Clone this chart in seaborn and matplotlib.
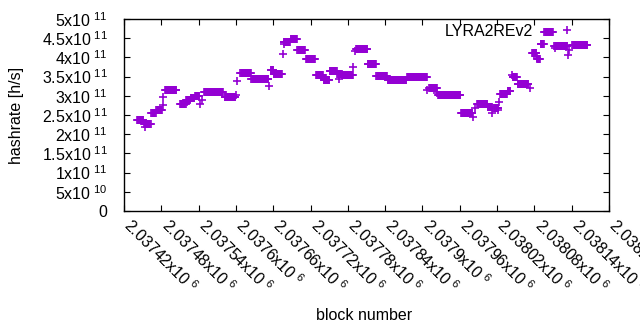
import numpy as np
import pandas as pd
import matplotlib
matplotlib.use('Agg')
import matplotlib.pyplot as plt
import matplotlib.transforms as mtransforms
from matplotlib.lines import Line2D
import seaborn as sns

# runs of blocks with the same estimated hashrate (values in 1e11 h/s)
seg_start = [2037441, 2037452, 2037464, 2037472, 2037486, 2037510, 2037520, 2037527, 2037534,
             2037549, 2037582, 2037607, 2037625, 2037656, 2037661, 2037677, 2037688, 2037699,
             2037713, 2037729, 2037741, 2037751, 2037763, 2037771, 2037793, 2037812, 2037826,
             2037844, 2037875, 2037911, 2037925, 2037962, 2037988, 2038005, 2038014, 2038025,
             2038037, 2038045, 2038053, 2038076, 2038085, 2038090, 2038096, 2038112, 2038141]
seg_end = [2037451, 2037463, 2037471, 2037481, 2037504, 2037519, 2037526, 2037533, 2037541,
           2037579, 2037599, 2037624, 2037652, 2037660, 2037674, 2037687, 2037698, 2037711,
           2037727, 2037740, 2037750, 2037762, 2037770, 2037788, 2037811, 2037825, 2037843,
           2037874, 2037907, 2037923, 2037961, 2037980, 2038004, 2038012, 2038022, 2038036,
           2038041, 2038052, 2038070, 2038083, 2038089, 2038095, 2038110, 2038133, 2038165]
seg_value = [2.37, 2.27, 2.55, 2.63, 3.15, 2.79, 2.90, 2.93, 2.99,
             3.10, 2.96, 3.60, 3.45, 3.67, 3.58, 4.40, 4.47, 4.19,
             3.96, 3.53, 3.40, 3.64, 3.56, 3.54, 4.23, 3.83, 3.52,
             3.41, 3.49, 3.20, 3.02, 2.54, 2.79, 2.71, 2.68, 3.05,
             3.12, 3.49, 3.32, 4.11, 3.97, 4.35, 4.66, 4.30, 4.32]

# isolated blocks
single_block = [2037454, 2037482, 2037483, 2037521, 2037542, 2037545, 2037600, 2037602, 2037653,
                2037676, 2037678, 2037766, 2037789, 2037792, 2037908, 2037924, 2037981, 2037985,
                2038012, 2038022, 2038023, 2038044, 2038073, 2038084, 2038113, 2038134, 2038136]
single_value = [2.19, 2.97, 2.76, 2.83, 2.79, 2.89, 3.02, 3.39, 3.26,
                4.10, 4.35, 3.44, 3.75, 4.17, 3.15, 3.07, 2.45, 2.68,
                2.55, 2.63, 2.84, 3.54, 3.20, 3.98, 4.24, 4.06, 4.19]

x_ticks = [2037420 + 60 * i for i in range(14)]
y_ticks = [0.5e11 * i for i in range(11)]

color = '#9400d3'

# expand the runs to one row per block
blocks, rates = [], []
for s, e, v in zip(seg_start, seg_end, seg_value):
    for b in range(s, e + 1):
        blocks.append(b)
        rates.append(v * 1e11)
blocks += single_block
rates += [v * 1e11 for v in single_value]
df = pd.DataFrame({'block': blocks, 'hashrate': rates})

plt.rcParams['font.family'] = ['Liberation Sans', 'DejaVu Sans']
plt.rcParams['mathtext.fontset'] = 'custom'
plt.rcParams['mathtext.rm'] = 'Liberation Sans'
plt.rcParams['font.size'] = 11.5

fig = plt.figure(figsize=(6.4, 3.3), dpi=100)
ax = fig.add_axes([124 / 640, 1 - 211 / 330, 485 / 640, 192 / 330])

sns.scatterplot(data=df, x='block', y='hashrate', marker='+', s=36, color=color,
                linewidth=1.2, ax=ax, legend=False)

ax.set_xlim(2037420, 2038200)
ax.set_ylim(0, 5e11)


def sci(v):
    if v == 0:
        return '0'
    exp = int(np.floor(np.log10(v)))
    mant = v / 10 ** exp
    m = ('%.5f' % mant).rstrip('0').rstrip('.')
    return m + 'x10$^{\\ %d}$' % exp


ax.set_yticks(y_ticks)
ax.set_yticklabels([sci(v) for v in y_ticks])
ax.set_xticks(x_ticks)
ax.set_xticklabels([sci(v) for v in x_ticks], rotation=-45, ha='left', va='top',
                   rotation_mode='anchor')
ax.tick_params(direction='in', length=4, top=True, right=True, width=0.8)
ax.tick_params(axis='y', pad=12)
ax.tick_params(axis='x', pad=3)
shift = mtransforms.ScaledTranslation(7 / 72, 0, fig.dpi_scale_trans)
for lbl in ax.get_xticklabels():
    lbl.set_transform(lbl.get_transform() + shift)
for sp in ax.spines.values():
    sp.set_linewidth(1.0)

ax.set_xlabel('block number')
ax.set_ylabel('hashrate [h/s]')
ax.xaxis.set_label_coords((364 - 124) / 485, (211 - 316) / 192)
ax.xaxis.label.set_va('center')
ax.yaxis.set_label_coords((17 - 124) / 485, 0.5)
ax.yaxis.label.set_va('center')

handle = Line2D([], [], linestyle='', marker='+', markersize=6, markeredgewidth=1.2,
                color=color)
ax.legend([handle], ['LYRA2REv2'], loc='upper right', bbox_to_anchor=(0.946, 0.975),
          frameon=False, markerfirst=False, handletextpad=1.1, handlelength=2.0,
          borderpad=0, borderaxespad=0)

fig.savefig('out.png', dpi=100)
